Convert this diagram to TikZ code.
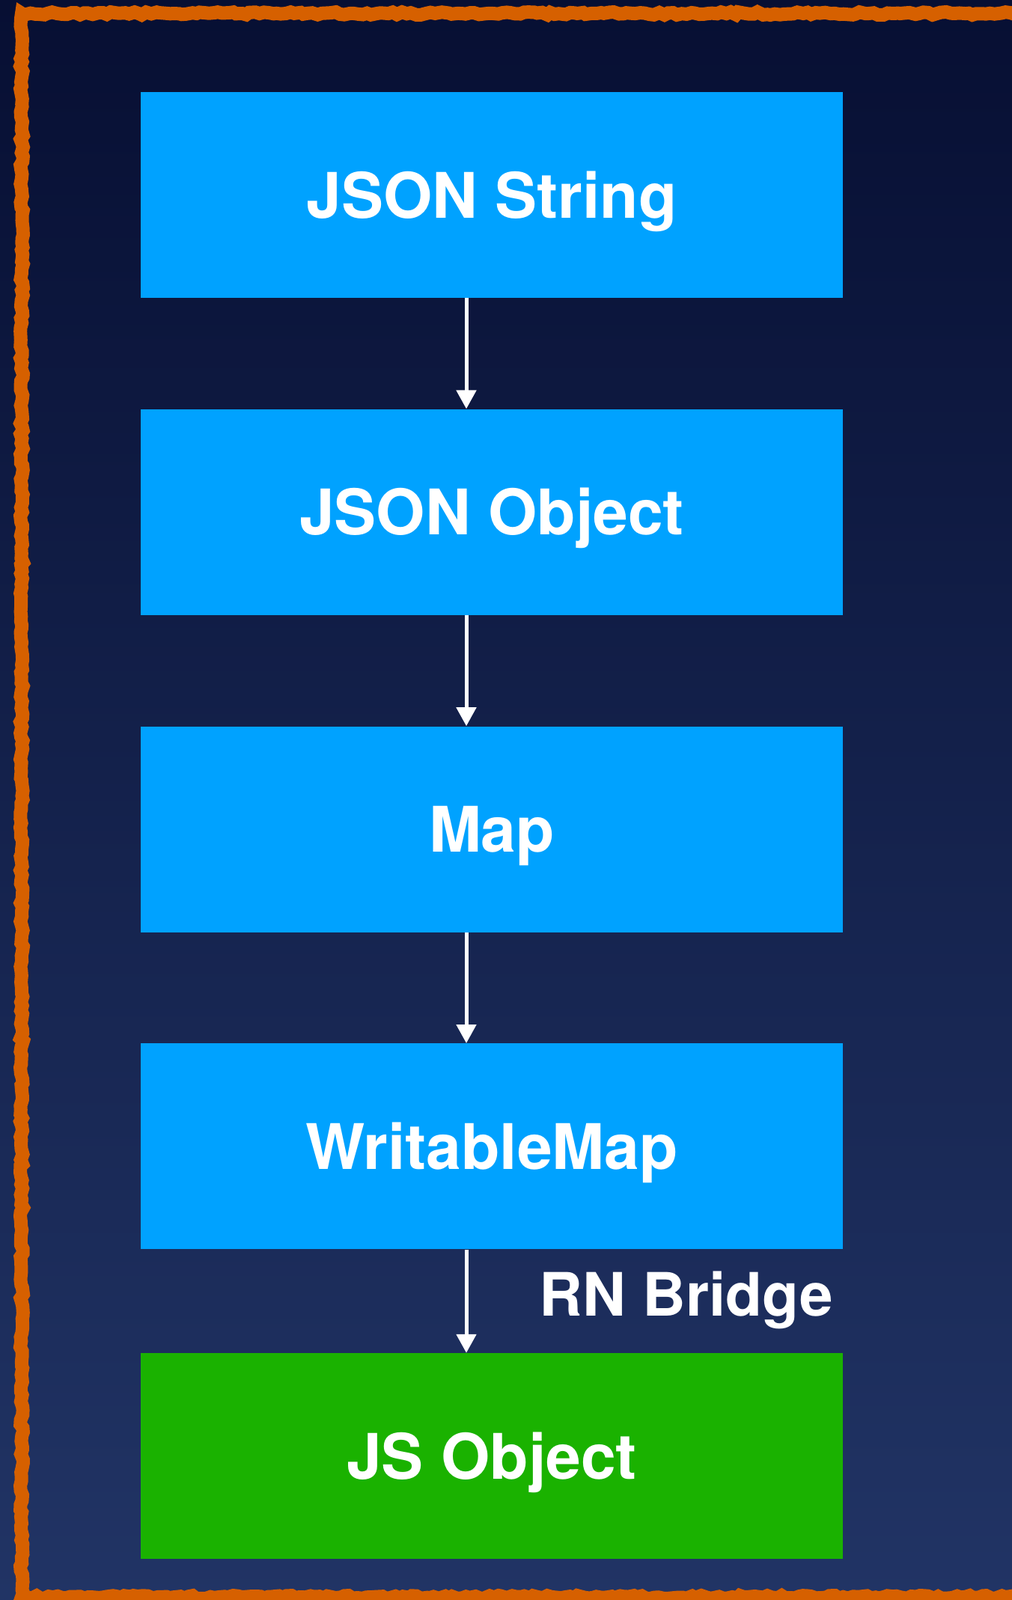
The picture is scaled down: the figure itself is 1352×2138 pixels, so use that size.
\documentclass[tikz,border=0pt]{standalone}
\usepackage{fontspec}
\setmainfont{TeX Gyre Heros}
\usetikzlibrary{positioning,arrows.meta,decorations.pathmorphing}
\definecolor{nightTop}{HTML}{070F33}
\definecolor{nightBottom}{HTML}{213465}
\definecolor{boxBlue}{HTML}{00A2FF}
\definecolor{boxGreen}{HTML}{1AB200}
\definecolor{chalkOrange}{HTML}{D66000}
\def\stagesep{74pt}

\begin{document}
\begin{tikzpicture}[x=0.5pt,y=-0.5pt,node distance=\stagesep]
    \tikzstyle{stage}=[rectangle,minimum width=469pt,minimum height=137.5pt,inner sep=0pt,text=white,text height=30.5pt,text depth=0pt,font=\bfseries\fontsize{42}{50}\selectfont]
    \tikzstyle{java stage}=[stage,fill=boxBlue]
    \tikzstyle{js stage}=[stage,fill=boxGreen]
    \tikzstyle{flow}=[draw=white,line width=2.5pt,-{Triangle[width=13pt,length=12.5pt]}]
    \tikzstyle{annot}=[inner sep=0pt,text=white,font=\bfseries\fontsize{40}{46}\selectfont]

    % Background and chalk frame
    \useasboundingbox (0,0) rectangle (1352,2138);
    \shade[top color=nightTop,bottom color=nightBottom] (0,0) rectangle (1352,2138);
    \draw[chalkOrange,line width=9pt,decorate,decoration={random steps,segment length=3pt,amplitude=1pt}]
        (29,18) rectangle (1366,2134);

    % Draw the conversion stages
    \node[java stage] (S-1) at (657,260.5) {JSON String};
    \node[java stage,below=of S-1] (S-2) {JSON Object};
    \node[java stage,below=of S-2] (S-3) {Map};
    \node[java stage,below=of S-3] (S-4) {WritableMap};
    \node[js stage,below=69pt of S-4] (S-5) {JS Object};

    % Connect each stage with the next one
    \coordinate (spine) at (623,0);
    \foreach \source/\dest in {1/2,2/3,3/4,4/5}
        \draw[flow] (S-\source.south -| spine) -- (S-\dest.north -| spine);

    % Annotate the bridge
    \node[annot,anchor=base east] (bridge) at (1113,1758) {RN Bridge};
\end{tikzpicture}
\end{document}
